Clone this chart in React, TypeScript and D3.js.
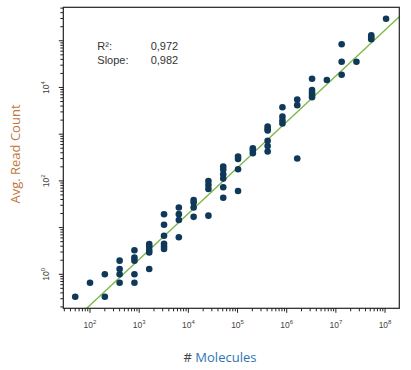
import React from "react";
import * as d3 from "d3";

// Molecule input levels (x) and the measured average read counts at each level (y)
const moleculeLevels = [
  50, 100, 200, 400, 800, 1600, 3200, 6400, 12800, 25600, 51200, 102400,
  204800, 409600, 819200, 1638400, 3276800, 6553600, 13107200, 26214400,
  52428800, 104857600,
];
const avgReadCounts = [
  [0.33],
  [0.66],
  [1.0, 0.33],
  [1.96, 1.3, 1.0, 0.66],
  [3.27, 2.27, 1.96, 1.0, 0.66],
  [4.45, 3.94, 3.31, 2.93, 1.3],
  [19.3, 11.5, 6.67, 4.5, 3.94, 3.48],
  [26.9, 19.4, 14.5, 6.2],
  [39, 34.5, 26.9, 17.0],
  [99.5, 81.7, 67.1, 18.0],
  [203, 175, 139, 112, 72.9, 43.5],
  [330, 295, 177, 60.8],
  [499, 448, 390],
  [1462, 1292, 1200, 726, 559, 426],
  [3767, 2371, 1960, 1694],
  [5535, 4180, 302],
  [15420, 8836, 7740, 6910, 6170],
  [14490],
  [84140, 35650, 18790],
  [35650],
  [131200, 118900, 107700],
  [297300],
];

// Regression fit in log10 space: log10(y) = fitIntercept + fitSlope * log10(x)
const fitSlope = 0.982;
const fitIntercept = -2.626;

const statLabels = ["R²:", "Slope:"];
const statValues = ["0,972", "0,982"];

const xLabelExponents = [2, 3, 4, 5, 6, 7, 8];
const yLabelExponents = [0, 2, 4];

const xDomain = [28.6, 1.95e8];
const yDomain = [0.187, 521000];

const W = 411;
const H = 370;
const L = 63.3;
const R = 399.3;
const T = 7.3;
const B = 308.3;

export default function App() {
  const x = d3.scaleLog().domain(xDomain).range([L, R]);
  const y = d3.scaleLog().domain(yDomain).range([B, T]);

  const points = moleculeLevels.flatMap((m, i) =>
    avgReadCounts[i].map((v) => ({ m, v }))
  );

  const fitY = (xv: number) => Math.pow(10, fitIntercept + fitSlope * Math.log10(xv));
  const line = d3
    .line<number>()
    .x((d) => x(d))
    .y((d) => y(fitY(d)));

  const isMajor = (v: number) => Math.abs(Math.log10(v) - Math.round(Math.log10(v))) < 1e-9;
  const xTicks = x.ticks();
  const yTicks = y.ticks();

  const tickColor = "#222";
  const labelColor = "#444";
  const tickFont = "Liberation Sans, Arial, sans-serif";

  return (
    <svg
      width={W}
      height={H}
      style={{ position: "absolute", left: 0, top: 0, background: "#fff" }}
    >
      <defs>
        <clipPath id="plotClip">
          <rect x={L} y={T} width={R - L} height={B - T} />
        </clipPath>
      </defs>

      {/* fit line */}
      <path
        d={line([xDomain[0], xDomain[1]]) || ""}
        fill="none"
        stroke="#7cb84a"
        strokeWidth={1.4}
        clipPath="url(#plotClip)"
      />

      {/* points */}
      <g>
        {points.map((p, i) => (
          <circle key={i} cx={x(p.m)} cy={y(p.v)} r={3.3} fill="#0f3859" />
        ))}
      </g>

      {/* frame */}
      <rect x={L} y={T} width={R - L} height={B - T} fill="none" stroke={tickColor} strokeWidth={1.2} />

      {/* x ticks */}
      <g>
        {xTicks
          .filter((t) => x(t) >= L - 0.5 && x(t) <= R + 0.5)
          .map((t, i) => (
            <line
              key={i}
              x1={x(t)}
              x2={x(t)}
              y1={B}
              y2={B + (isMajor(t) ? 4.5 : 3)}
              stroke={tickColor}
              strokeWidth={1}
            />
          ))}
        {xLabelExponents.map((e) => (
          <text
            key={e}
            x={x(Math.pow(10, e))}
            y={327.5}
            textAnchor="middle"
            fontFamily={tickFont}
            fontSize={8.5}
            fill={labelColor}
          >
            10
            <tspan fontSize={6} dy={-4}>{e}</tspan>
          </text>
        ))}
      </g>

      {/* y ticks */}
      <g>
        {yTicks
          .filter((t) => y(t) >= T - 0.5 && y(t) <= B + 0.5)
          .map((t, i) => (
            <line
              key={i}
              x1={L}
              x2={L - (isMajor(t) ? 4.5 : 3)}
              y1={y(t)}
              y2={y(t)}
              stroke={tickColor}
              strokeWidth={1}
            />
          ))}
        {yLabelExponents.map((e) => (
          <text
            key={e}
            transform={`translate(48.5, ${y(Math.pow(10, e))}) rotate(-90)`}
            textAnchor="middle"
            fontFamily={tickFont}
            fontSize={8.5}
            fill={labelColor}
          >
            10
            <tspan fontSize={6} dy={-4}>{e}</tspan>
          </text>
        ))}
      </g>

      {/* stats */}
      {statLabels.map((s, i) => (
        <g key={s}>
          <text x={97.3} y={50 + i * 14} fontFamily={tickFont} fontSize={11} fill="#333">
            {s}
          </text>
          <text x={150.7} y={50 + i * 14} fontFamily={tickFont} fontSize={11} fill="#333">
            {statValues[i]}
          </text>
        </g>
      ))}

      {/* axis titles */}
      <text
        x={220}
        y={361.5}
        textAnchor="middle"
        fontFamily="Open Sans, sans-serif"
        fontSize={13}
        fill="#2e75b6"
      >
        <tspan fill="#444">#</tspan> Molecules
      </text>
      <text
        transform="translate(19.5, 154) rotate(-90)"
        textAnchor="middle"
        fontFamily="Open Sans, sans-serif"
        fontSize={13}
        fill="#c0783e"
      >
        Avg. Read Count
      </text>
    </svg>
  );
}
